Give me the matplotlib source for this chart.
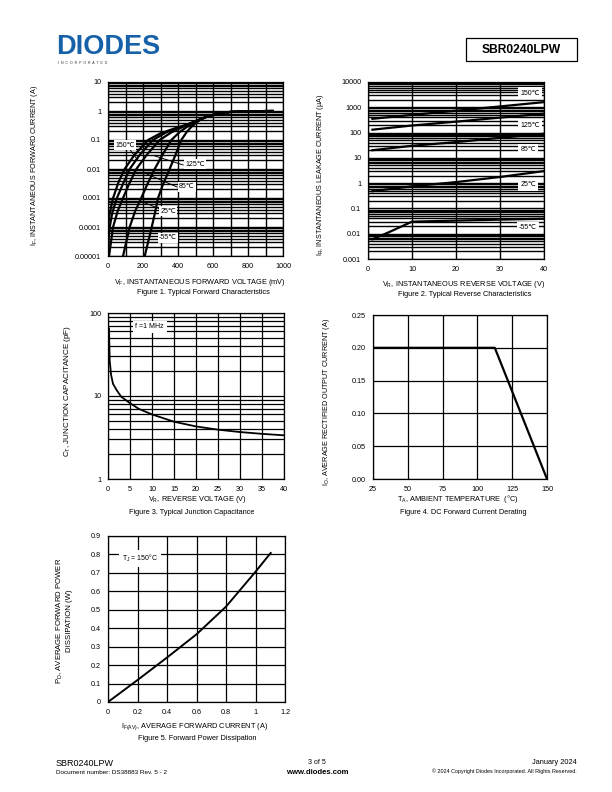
import matplotlib
matplotlib.use('Agg')
import matplotlib.pyplot as plt
from matplotlib.ticker import MultipleLocator, LogLocator, NullFormatter
from matplotlib.patches import Rectangle

plt.rcParams['font.family'] = ['Liberation Sans', 'DejaVu Sans']
plt.rcParams['mathtext.fontset'] = 'custom'
plt.rcParams['mathtext.rm'] = 'Liberation Sans'
plt.rcParams['mathtext.it'] = 'Liberation Sans:italic'
plt.rcParams['mathtext.bf'] = 'Liberation Sans:bold'

W, H = 612, 792

# ---- Figure 1 : forward characteristics (mV, A)
fwd_temps = ['150℃', '125℃', '85℃', '25℃', '-55℃']
fwd_v = [
    [0.3, 1, 3, 10, 29, 60, 95, 150, 229, 300, 380, 450, 520, 560, 620, 700, 800, 940],
    [1, 3, 10, 25, 51, 85, 124, 180, 257, 330, 400, 460, 520, 560, 620, 700, 800, 940],
    [6, 29, 55, 86, 120, 162, 220, 295, 360, 420, 470, 520, 560, 620, 700, 800, 940],
    [86, 124, 155, 190, 225, 267, 310, 362, 410, 450, 490, 520, 560, 620, 700, 800, 940],
    [210, 250, 268, 286, 315, 352, 385, 419, 450, 478, 505, 525, 560, 620, 700, 800, 940],
]
fwd_i = [
    [1e-5, 8e-5, 1.4e-4, 3e-4, 1e-3, 3.5e-3, 1e-2, 3e-2, 0.1, 0.17, 0.25, 0.34, 0.5, 0.62, 0.8, 0.93, 0.98, 1.0],
    [1e-5, 4e-5, 1e-4, 3.2e-4, 1e-3, 3e-3, 1e-2, 3e-2, 0.1, 0.18, 0.26, 0.35, 0.5, 0.62, 0.8, 0.93, 0.98, 1.0],
    [1e-5, 1e-4, 3.5e-4, 1e-3, 3e-3, 1e-2, 3e-2, 0.1, 0.18, 0.27, 0.36, 0.5, 0.62, 0.8, 0.93, 0.98, 1.0],
    [1e-5, 1e-4, 3.5e-4, 1e-3, 3e-3, 1e-2, 3e-2, 0.1, 0.19, 0.28, 0.38, 0.48, 0.62, 0.8, 0.93, 0.98, 1.0],
    [1e-5, 1e-4, 3e-4, 1e-3, 3e-3, 1e-2, 3e-2, 0.1, 0.19, 0.29, 0.4, 0.48, 0.62, 0.8, 0.93, 0.98, 1.0],
]
fwd_label_xy = [(97, 0.067), (497, 0.0148), (451, 0.0024), (343, 3.5e-4), (343, 4.2e-5)]
fwd_leaders = [((126, 171), (0.046, 0.020)), ((269, 429), (0.028, 0.0138)),
               ((211, 394), (7.2e-3, 2.4e-3)), ((200, 309), (7.2e-4, 3.9e-4))]
fwd_yticks = [1e-5, 1e-4, 1e-3, 1e-2, 0.1, 1, 10]
fwd_ylabels = ['0.00001', '0.0001', '0.001', '0.01', '0.1', '1', '10']

# ---- Figure 2 : reverse characteristics (V, uA)
rev_temps = ['150℃', '125℃', '85℃', '25℃', '-55℃']
rev_v = [[1, 10, 20, 30, 40], [1, 10, 20, 30, 40], [1, 10, 20, 30, 40],
         [1, 10, 20, 30, 40], [1, 5, 10, 20, 30, 40]]
rev_i = [[350, 500, 730, 1080, 1600], [130, 190, 270, 390, 560], [20, 30, 42, 62, 90],
         [0.48, 0.75, 1.1, 1.75, 3.0], [0.006, 0.012, 0.03, 0.033, 0.036, 0.039]]
rev_label_xy = [(36.8, 3670), (36.8, 182), (36.4, 20.5), (36.4, 0.85), (36.4, 0.017)]
rev_yticks = [1e-3, 1e-2, 0.1, 1, 10, 100, 1000, 10000]
rev_ylabels = ['0.001', '0.01', '0.1', '1', '10', '100', '1000', '10000']

# ---- Figure 3 : junction capacitance (V, pF)
cap_v = [0.23, 0.38, 0.7, 1.14, 2, 3, 5, 7, 10, 15, 20, 25, 30, 35, 40]
cap_c = [65, 27, 18, 14, 11.7, 9.8, 8.2, 7.0, 6.0, 4.9, 4.3, 3.93, 3.68, 3.5, 3.36]

# ---- Figure 4 : derating (degC, A)
der_t = [25, 112.5, 150]
der_i = [0.2, 0.2, 0.0]

# ---- Figure 5 : power dissipation (A, W)
pd_i = [0, 0.2, 0.4, 0.6, 0.8, 1.0, 1.103]
pd_p = [0, 0.119, 0.241, 0.367, 0.517, 0.706, 0.808]


def fx(x):
    return x / W


def fy(y):
    return 1 - y / H


def axes_px(l, t, r, b):
    return fig.add_axes([l / W, 1 - b / H, (r - l) / W, (b - t) / H])


def style(ax):
    ax.tick_params(which='both', length=0, labelsize=5.2, pad=5)
    for s in ax.spines.values():
        s.set_linewidth(0.9)
    ax.set_axisbelow(True)


fig = plt.figure(figsize=(W / 100, H / 100), dpi=100)

# header
fig.text(fx(56), fy(54.5), 'DIODES', fontsize=19.5, fontweight='bold', color='#1761a8', va='baseline')
fig.text(fx(58), fy(62.5), 'I  N  C  O  R  P  O  R  A  T  E  D', fontsize=2.5, color='#333333', va='center')
fig.add_artist(Rectangle((fx(466), fy(61)), (577 - 466) / W, 23 / H, transform=fig.transFigure,
                         fill=False, lw=0.9, ec='black'))
fig.text(fx(521.5), fy(50), 'SBR0240LPW', fontsize=8.7, fontweight='bold', ha='center', va='center')

# Figure 1
ax1 = axes_px(108, 82, 283, 256)
style(ax1)
ax1.set_yscale('log')
ax1.set_ylim(1e-5, 10)
ax1.set_xlim(0, 1000)
ax1.set_yticks(fwd_yticks)
ax1.set_yticklabels(fwd_ylabels)
ax1.yaxis.set_minor_locator(LogLocator(base=10, subs=range(2, 10), numticks=20))
ax1.yaxis.set_minor_formatter(NullFormatter())
ax1.xaxis.set_major_locator(MultipleLocator(200))
ax1.xaxis.set_minor_locator(MultipleLocator(100))
ax1.grid(which='both', color='black', lw=1.0)
for v, i in zip(fwd_v, fwd_i):
    ax1.plot(v, i, color='black', lw=1.6)
for (xs, ys) in fwd_leaders:
    ax1.plot(xs, ys, color='black', lw=0.7)
for t, (x, y) in zip(fwd_temps, fwd_label_xy):
    ax1.text(x, y, t, fontsize=5, ha='center', va='center',
             bbox=dict(facecolor='white', edgecolor='none', pad=1.0))
ax1.set_ylabel('I$_\\mathrm{F}$, INSTANTANEOUS FORWARD CURRENT (A)', fontsize=5.2)
ax1.yaxis.set_label_coords(-0.39, 0.52)
fig.text(fx(200), fy(282), 'V$_\\mathrm{F}$, INSTANTANEOUS FORWARD VOLTAGE (mV)', fontsize=5.3, ha='center', va='center')
fig.text(fx(203), fy(292.5), 'Figure 1. Typical Forward Characteristics', fontsize=5.3, ha='center', va='center')

# Figure 2
ax2 = axes_px(368, 82, 544, 259)
style(ax2)
ax2.set_yscale('log')
ax2.set_ylim(1e-3, 1e4)
ax2.set_xlim(0, 40)
ax2.set_yticks(rev_yticks)
ax2.set_yticklabels(rev_ylabels)
ax2.yaxis.set_minor_locator(LogLocator(base=10, subs=range(2, 10), numticks=20))
ax2.yaxis.set_minor_formatter(NullFormatter())
ax2.xaxis.set_major_locator(MultipleLocator(10))
ax2.grid(which='both', color='black', lw=1.0)
for v, i in zip(rev_v, rev_i):
    ax2.plot(v, i, color='black', lw=1.6)
for t, (x, y) in zip(rev_temps, rev_label_xy):
    ax2.text(x, y, t, fontsize=5, ha='center', va='center',
             bbox=dict(facecolor='white', edgecolor='none', pad=1.5))
ax2.set_ylabel('I$_\\mathrm{R}$, INSTANTANEOUS LEAKAGE CURRENT (µA)', fontsize=5.2)
ax2.yaxis.set_label_coords(-0.24, 0.475)
fig.text(fx(464), fy(284), 'V$_\\mathrm{R}$, INSTANTANEOUS REVERSE VOLTAGE (V)', fontsize=5.3, ha='center', va='center')
fig.text(fx(465), fy(295), 'Figure 2. Typical Reverse Characteristics', fontsize=5.3, ha='center', va='center')

# Figure 3
ax3 = axes_px(108, 313, 284, 479)
style(ax3)
ax3.set_yscale('log')
ax3.set_ylim(1, 100)
ax3.set_xlim(0, 40)
ax3.set_yticks([1, 10, 100])
ax3.set_yticklabels(['1', '10', '100'])
ax3.yaxis.set_minor_locator(LogLocator(base=10, subs=range(2, 10), numticks=20))
ax3.yaxis.set_minor_formatter(NullFormatter())
ax3.xaxis.set_major_locator(MultipleLocator(5))
ax3.grid(which='both', color='black', lw=0.9)
ax3.plot(cap_v, cap_c, color='black', lw=1.3)
ax3.text(9.5, 68, 'f =1 MHz', fontsize=5, ha='center', va='center',
         bbox=dict(facecolor='white', edgecolor='none', pad=2))
ax3.set_ylabel('C$_\\mathrm{T}$, JUNCTION CAPACITANCE (pF)', fontsize=5.8)
ax3.yaxis.set_label_coords(-0.2, 0.53)
fig.text(fx(197), fy(500), 'V$_\\mathrm{R}$, REVERSE VOLTAGE (V)', fontsize=5.3, ha='center', va='center')
fig.text(fx(192), fy(513), 'Figure 3. Typical Junction Capacitance', fontsize=5.3, ha='center', va='center')

# Figure 4
ax4 = axes_px(373, 315, 547, 479)
style(ax4)
ax4.set_xlim(25, 150)
ax4.set_ylim(0, 0.25)
ax4.set_xticks([25, 50, 75, 100, 125, 150])
ax4.set_yticks([0, 0.05, 0.10, 0.15, 0.20, 0.25])
ax4.set_yticklabels(['0.00', '0.05', '0.10', '0.15', '0.20', '0.25'])
ax4.grid(color='black', lw=0.9)
ax4.plot(der_t, der_i, color='black', lw=1.6)
ax4.set_ylabel('I$_\\mathrm{O}$, AVERAGE RECTIFIED OUTPUT CURRENT (A)', fontsize=5.2)
ax4.yaxis.set_label_coords(-0.236, 0.47)
fig.text(fx(458), fy(499), 'T$_\\mathrm{A}$, AMBIENT TEMPERATURE  (°C)', fontsize=5.3, ha='center', va='center')
fig.text(fx(463), fy(512), 'Figure 4. DC Forward Current Derating', fontsize=5.3, ha='center', va='center')

# Figure 5
ax5 = axes_px(108, 536, 285, 702)
style(ax5)
ax5.set_xlim(0, 1.2)
ax5.set_ylim(0, 0.9)
ax5.set_xticks([0, 0.2, 0.4, 0.6, 0.8, 1.0, 1.2])
ax5.set_xticklabels(['0', '0.2', '0.4', '0.6', '0.8', '1', '1.2'])
ax5.set_yticks([0, 0.1, 0.2, 0.3, 0.4, 0.5, 0.6, 0.7, 0.8, 0.9])
ax5.set_yticklabels(['0', '0.1', '0.2', '0.3', '0.4', '0.5', '0.6', '0.7', '0.8', '0.9'])
ax5.grid(color='black', lw=0.9)
ax5.plot(pd_i, pd_p, color='black', lw=1.4)
ax5.text(0.217, 0.78, 'T$_\\mathrm{J}$ = 150°C', fontsize=5, ha='center', va='center',
         bbox=dict(facecolor='white', edgecolor='none', pad=2))
ax5.set_ylabel('P$_\\mathrm{D}$, AVERAGE FORWARD POWER\nDISSIPATION (W)', fontsize=5.6, linespacing=1.1)
ax5.yaxis.set_label_coords(-0.2, 0.49)
fig.text(fx(195), fy(727), 'I$_\\mathrm{F(AV)}$, AVERAGE FORWARD CURRENT (A)', fontsize=5.3, ha='center', va='center')
fig.text(fx(197), fy(739), 'Figure 5. Forward Power Dissipation', fontsize=5.3, ha='center', va='center')

# footer
fig.text(fx(56), fy(763), 'SBR0240LPW', fontsize=6.5, va='center')
fig.text(fx(56), fy(773), 'Document number: DS38883 Rev. 5 - 2', fontsize=4.6, va='center')
fig.text(fx(317), fy(762), '3 of 5', fontsize=5, ha='center', va='center')
fig.text(fx(317), fy(772), 'www.diodes.com', fontsize=5.6, fontweight='bold', ha='center', va='center')
fig.text(fx(577), fy(763), 'January 2024', fontsize=5.3, ha='right', va='center')
fig.text(fx(577), fy(771.5), '© 2024 Copyright Diodes Incorporated. All Rights Reserved.', fontsize=3.9, ha='right', va='center')

fig.savefig('out.png', dpi=100)
